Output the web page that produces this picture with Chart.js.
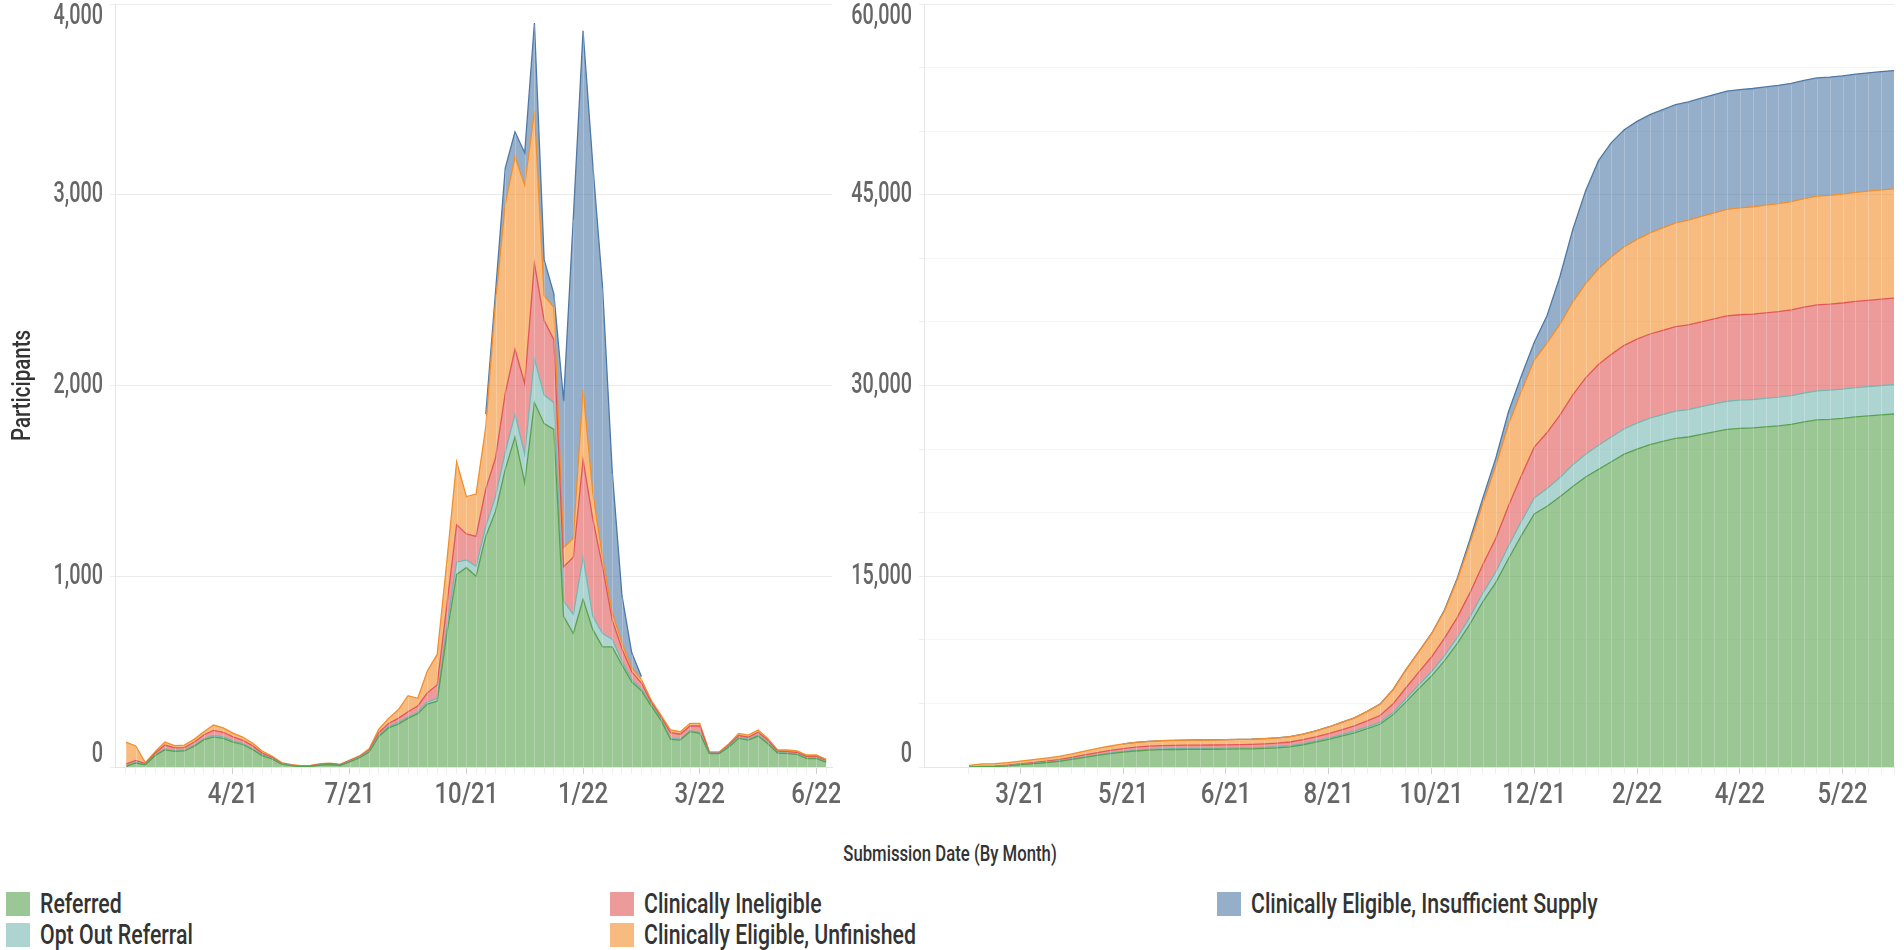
<!DOCTYPE html>
<html>
<head>
<meta charset="utf-8">
<script src="https://cdn.jsdelivr.net/npm/chart.js@4.4.1/dist/chart.umd.min.js"></script>
<style>
  html, body { margin: 0; padding: 0; background: #fff; }
  body { width: 1904px; height: 950px; position: relative; overflow: hidden;
         font-family: Roboto, "Noto Sans", sans-serif; }
  #left { position: absolute; left: 0; top: 0; }
  #right { position: absolute; left: 800px; top: 0; }
  .xtitle { position: absolute; left: 950px; top: 841px; font-size: 22px; font-weight: 500; color: #333;
            white-space: nowrap; transform: translateX(-50%) scaleX(0.76); }
  .lg { position: absolute; height: 24px; line-height: 24px; white-space: nowrap; }
  .lg i { display: inline-block; width: 24px; height: 24px; vertical-align: top; margin-right: 10px; }
  .lg span { display: inline-block; font-size: 28px; font-weight: 500; color: #333;
             transform: scaleX(0.76); transform-origin: left center; }
</style>
</head>
<body>
<canvas id="left" width="840" height="830"></canvas>
<canvas id="right" width="1104" height="830"></canvas>
<div class="xtitle">Submission Date (By Month)</div>
<div id="legend"></div>
<script>
// week starting dates (one point per week)
var weeks = [
  '2021-02-08','2021-02-15','2021-02-22','2021-03-01','2021-03-08','2021-03-15','2021-03-22','2021-03-29',
  '2021-04-05','2021-04-12','2021-04-19','2021-04-26','2021-05-03','2021-05-10','2021-05-17','2021-05-24',
  '2021-05-31','2021-06-07','2021-06-14','2021-06-21','2021-06-28','2021-07-05','2021-07-12','2021-07-19',
  '2021-07-26','2021-08-02','2021-08-09','2021-08-16','2021-08-23','2021-08-30','2021-09-06','2021-09-13',
  '2021-09-20','2021-09-27','2021-10-04','2021-10-11','2021-10-18','2021-10-25','2021-11-01','2021-11-08',
  '2021-11-15','2021-11-22','2021-11-29','2021-12-06','2021-12-13','2021-12-20','2021-12-27','2022-01-03',
  '2022-01-10','2022-01-17','2022-01-24','2022-01-31','2022-02-07','2022-02-14','2022-02-21','2022-02-28',
  '2022-03-07','2022-03-14','2022-03-21','2022-03-28','2022-04-04','2022-04-11','2022-04-18','2022-04-25',
  '2022-05-02','2022-05-09','2022-05-16','2022-05-23','2022-05-30','2022-06-06','2022-06-13','2022-06-20',
  '2022-06-27'
];

var seriesNames = ['Referred', 'Opt Out Referral', 'Clinically Ineligible',
                   'Clinically Eligible, Unfinished', 'Clinically Eligible, Insufficient Supply'];

// left chart: participants per week
var weeklyReferred = [
  3, 21, 12, 60, 90, 82, 84, 108, 142, 158,
  150, 130, 118, 92, 60, 42, 15, 7, 3, 4,
  10, 13, 8, 27, 47, 78, 160, 205, 225, 255,
  280, 330, 345, 700, 1010, 1045, 1000, 1210, 1340, 1560,
  1730, 1490, 1910, 1800, 1770, 790, 700, 880, 720, 630,
  630, 535, 447, 400, 320, 246, 145, 141, 185, 176,
  70, 70, 105, 150, 141, 162, 122, 73, 70, 66,
  44, 44, 26
];
var weeklyOptOut = [
  2, 3, 2, 3, 5, 4, 4, 5, 6, 8,
  8, 7, 5, 4, 3, 2, 1, 1, 1, 1,
  1, 1, 1, 2, 3, 4, 7, 7, 8, 7,
  8, 10, 15, 40, 65, 40, 52, 52, 80, 90,
  120, 150, 230, 150, 140, 80, 100, 220, 70, 70,
  40, 20, 13, 10, 7, 6, 5, 5, 5, 6,
  2, 2, 3, 5, 5, 6, 5, 3, 3, 3,
  3, 3, 2
];
var weeklyIneligible = [
  10, 11, 4, 9, 20, 14, 14, 17, 20, 26,
  24, 21, 17, 16, 10, 7, 3, 2, 1, 2,
  3, 4, 3, 3, 4, 6, 13, 16, 22, 28,
  32, 50, 70, 110, 195, 137, 157, 196, 200, 310,
  340, 370, 500, 390, 330, 180, 300, 510, 510, 350,
  100, 65, 40, 30, 13, 10, 30, 26, 25, 33,
  3, 3, 7, 10, 10, 14, 13, 7, 7, 8,
  8, 8, 6
];
var weeklyUnfinished = [
  115, 75, 4, 8, 16, 12, 13, 15, 17, 28,
  23, 20, 17, 14, 11, 7, 4, 2, 2, 2,
  3, 2, 2, 4, 4, 7, 18, 27, 45, 84,
  40, 115, 160, 230, 330, 196, 222, 326, 820, 990,
  1010, 1040, 800, 130, 170, 100, 100, 370, 140, 50,
  40, 30, 20, 20, 11, 11, 14, 13, 14, 14,
  4, 4, 7, 11, 11, 12, 10, 6, 9, 8,
  8, 8, 6
];
var weeklySupply = [
  null, null, null, null, null, null, null, null, null, null,
  null, null, null, null, null, null, null, null, null, null,
  null, null, null, null, null, null, null, null, null, null,
  null, null, null, null, null, null, null, 66, 50, 190,
  130, 170, 460, 190, 70, 770, 1680, 1880, 1720, 1420,
  740, 250, 80, 15, null, null, null, null, null, null,
  null, null, null, null, null, null, null, null, null, null,
  null, null, null
];

// right chart: running totals
var totalReferred = [
  3, 25, 40, 95, 180, 262, 350, 445, 600, 760,
  910, 1050, 1170, 1260, 1320, 1360, 1375, 1385, 1390, 1395,
  1405, 1420, 1430, 1460, 1510, 1590, 1750, 1950, 2170, 2420,
  2690, 3020, 3360, 4100, 5100, 6150, 7150, 8350, 9700, 11250,
  13000, 14500, 16400, 18200, 19900, 20500, 21250, 22050, 22800, 23400,
  24000, 24600, 25000, 25350, 25600, 25850, 25950, 26150, 26350, 26550,
  26630, 26670, 26750, 26830, 26950, 27140, 27300, 27340, 27420, 27530,
  27610, 27690, 27760
];
var totalOptOut = [
  2, 5, 7, 10, 15, 19, 23, 28, 34, 42,
  50, 56, 62, 66, 69, 71, 72, 73, 74, 75,
  76, 77, 78, 80, 83, 87, 94, 101, 109, 116,
  124, 134, 149, 190, 250, 290, 340, 390, 470, 560,
  680, 830, 1000, 1120, 1250, 1400, 1520, 1720, 1800, 1900,
  1950, 2000, 2040, 2080, 2110, 2140, 2160, 2180, 2200, 2210,
  2220, 2230, 2240, 2250, 2260, 2270, 2280, 2290, 2295, 2300,
  2305, 2310, 2311
];
var totalIneligible = [
  10, 20, 25, 35, 55, 70, 85, 100, 120, 150,
  175, 200, 220, 235, 245, 250, 253, 255, 257, 259,
  262, 266, 270, 275, 280, 290, 305, 325, 350, 380,
  415, 470, 540, 660, 860, 1000, 1160, 1370, 1580, 1900,
  2250, 2640, 3150, 3600, 4000, 4400, 4900, 5500, 6000, 6350,
  6500, 6560, 6600, 6620, 6630, 6640, 6660, 6675, 6690, 6710,
  6713, 6716, 6722, 6730, 6738, 6750, 6760, 6766, 6772, 6779,
  6786, 6793, 6800
];
var totalUnfinished = [
  115, 190, 195, 205, 220, 230, 245, 260, 275, 300,
  325, 345, 360, 375, 385, 395, 400, 402, 404, 406,
  408, 410, 412, 416, 420, 427, 445, 472, 517, 600,
  640, 750, 900, 1120, 1430, 1620, 1830, 2150, 2950, 3900,
  4800, 5700, 6400, 6650, 6850, 7050, 7150, 7300, 7420, 7530,
  7650, 7750, 7850, 7950, 8050, 8150, 8230, 8290, 8340, 8380,
  8410, 8440, 8470, 8495, 8515, 8530, 8545, 8555, 8565, 8575,
  8585, 8590, 8595
];
var totalSupply = [
  null, null, null, null, null, null, null, null, null, null,
  null, null, 0, 0, 0, 0, 0, 0, 0, 0,
  0, 0, 0, 0, 0, 0, 0, 0, 0, 0,
  0, 0, 0, 0, 0, 0, 0, 60, 120, 300,
  430, 600, 1000, 1200, 1400, 2150, 3750, 5700, 7300, 8500,
  9000, 9200, 9280, 9300, 9300, 9300, 9300, 9300, 9300, 9300,
  9300, 9300, 9300, 9300, 9300, 9300, 9300, 9300, 9300, 9300,
  9300, 9300, 9300
];

// axis ticks
var leftTickWeeks = ['2021-04-26', '2021-07-19', '2021-10-11', '2022-01-03', '2022-03-28', '2022-06-20'];
var leftTickLabels = ['4/21', '7/21', '10/21', '1/22', '3/22', '6/22'];
var rightTickWeeks = ['2021-03-08', '2021-05-03', '2021-06-28', '2021-08-23', '2021-10-18',
                      '2021-12-13', '2022-02-07', '2022-04-04', '2022-05-30'];
var rightTickLabels = ['3/21', '5/21', '6/21', '8/21', '10/21', '12/21', '2/22', '4/22', '5/22'];
var leftYTicks = [0, 1000, 2000, 3000, 4000];
var rightYTicks = [0, 15000, 30000, 45000, 60000];

var FONT = 'Roboto, "Noto Sans", sans-serif';
Chart.defaults.font.family = FONT;

var lineColors = ['#59a14f', '#76b7b2', '#e15759', '#f28e2b', '#4e79a7'];
var fillColors = ['rgba(89,161,79,0.6)', 'rgba(118,183,178,0.6)', 'rgba(225,87,89,0.6)',
                  'rgba(242,142,43,0.6)', 'rgba(78,121,167,0.6)'];

function pts(arr) {
  return arr.map(function (v, i) { return { x: i, y: v }; });
}

function makeDatasets(list) {
  return list.map(function (arr, k) {
    return {
      label: seriesNames[k],
      data: pts(arr),
      borderColor: lineColors[k],
      backgroundColor: fillColors[k],
      borderWidth: 1.3,
      pointRadius: 0,
      tension: 0,
      spanGaps: false,
      fill: k === 0 ? 'origin' : '-1'
    };
  });
}

// narrow text, the original uses a condensed face
function squeezeText(ctx, text, x, y, align, sx) {
  ctx.save();
  ctx.translate(x, y);
  ctx.scale(sx, 1);
  ctx.textAlign = align;
  ctx.fillText(text, 0, 0);
  ctx.restore();
}

// faint seams between weekly slices, as in the original render
var seams = {
  id: 'seams',
  afterDatasetsDraw: function (chart) {
    var ctx = chart.ctx, bottom = chart.chartArea.bottom;
    var metas = chart.getSortedVisibleDatasetMetas();
    ctx.save();
    ctx.strokeStyle = 'rgba(255,255,255,0.22)';
    ctx.lineWidth = 1;
    weeks.forEach(function (w, i) {
      var top = bottom, x = null;
      metas.forEach(function (m) {
        var p = m.data[i];
        if (p && !p.skip && isFinite(p.y)) { top = Math.min(top, p.y); x = p.x; }
      });
      if (x === null || bottom - top < 4) return;
      ctx.beginPath();
      ctx.moveTo(Math.round(x) + 0.5, bottom);
      ctx.lineTo(Math.round(x) + 0.5, top + 2);
      ctx.stroke();
    });
    ctx.restore();
  }
};

// axis labels kept inside the axis range, like the original
var axisLabels = {
  id: 'axisLabels',
  afterDraw: function (chart, args, opts) {
    var ctx = chart.ctx, area = chart.chartArea, y = chart.scales.y, x = chart.scales.x;
    ctx.save();
    ctx.fillStyle = '#666';
    ctx.textBaseline = 'middle';
    ctx.font = '500 30px ' + FONT;
    opts.yValues.forEach(function (v) {
      var py = y.getPixelForValue(v);
      py = Math.min(Math.max(py, area.top + 12), area.bottom - 13);
      squeezeText(ctx, v.toLocaleString('en-US'), area.left - 12, py, 'right', 0.66);
    });
    opts.tickWeeks.forEach(function (w, k) {
      var px = x.getPixelForValue(weeks.indexOf(w));
      squeezeText(ctx, opts.tickLabels[k], px, area.bottom + 28, 'center', 0.8);
    });
    if (opts.title) {
      ctx.save();
      ctx.fillStyle = '#333';
      ctx.font = '500 25px ' + FONT;
      ctx.translate(24, (area.top + area.bottom) / 2);
      ctx.rotate(-Math.PI / 2);
      ctx.scale(0.82, 1);
      ctx.textAlign = 'center';
      ctx.fillText(opts.title, 0, 0);
      ctx.restore();
    }
    ctx.restore();
  }
};

function makeChart(id, sets, cfg) {
  return new Chart(document.getElementById(id), {
    type: 'line',
    data: { datasets: makeDatasets(sets) },
    plugins: [seams, axisLabels],
    options: {
      responsive: false,
      animation: false,
      layout: { padding: { top: 4, right: cfg.padRight, left: 0, bottom: 0 } },
      plugins: {
        legend: { display: false },
        tooltip: { enabled: false },
        axisLabels: { yValues: cfg.yTicks, tickWeeks: cfg.tickWeeks, tickLabels: cfg.tickLabels,
                      title: cfg.title }
      },
      scales: {
        x: {
          type: 'linear',
          min: cfg.xMin, max: cfg.xMax,
          afterBuildTicks: function (s) {
            s.ticks = weeks.map(function (w, i) { return { value: i }; });
          },
          ticks: { display: false },
          grid: {
            drawOnChartArea: false, drawTicks: true, tickLength: 7,
            tickColor: function (c) {
              return cfg.tickWeeks.indexOf(weeks[c.tick.value]) >= 0 ? '#d0d0d0' : '#efefef';
            }
          },
          border: { color: '#e6e6e6' },
          afterFit: function (s) { s.height = 63; }
        },
        y: {
          stacked: true,
          min: 0, max: cfg.yMax,
          ticks: { display: false, stepSize: cfg.yStep },
          grid: {
            tickLength: 5,
            color: function (c) {
              return c.tick.value % cfg.yMajor === 0 ? '#ebebeb' : '#f6f6f6';
            },
            tickColor: '#eeeeee'
          },
          border: { color: '#e6e6e6' },
          afterFit: function (s) { s.width = cfg.yWidth; }
        }
      }
    }
  });
}

makeChart('left',
  [weeklyReferred, weeklyOptOut, weeklyIneligible, weeklyUnfinished, weeklySupply],
  { xMin: -1.13, xMax: 72.6, yMax: 4000, yStep: 1000, yMajor: 1000, yTicks: leftYTicks,
    tickWeeks: leftTickWeeks, tickLabels: leftTickLabels, yWidth: 115, padRight: 8,
    title: 'Participants' });

makeChart('right',
  [totalReferred, totalOptOut, totalIneligible, totalUnfinished, totalSupply],
  { xMin: -3.5, xMax: 72, yMax: 60000, yStep: 5000, yMajor: 15000, yTicks: rightYTicks,
    tickWeeks: rightTickWeeks, tickLabels: rightTickLabels, yWidth: 124, padRight: 10,
    title: null });

// legend laid out in columns like the original
var legendSpots = [
  { left: 6, top: 892 }, { left: 6, top: 923 },
  { left: 610, top: 892 }, { left: 610, top: 923 },
  { left: 1217, top: 892 }
];
var legendSwatch = ['#9bc695', '#add4d1', '#ed9a9b', '#f7bb80', '#95afca'];
var legend = document.getElementById('legend');
seriesNames.forEach(function (name, k) {
  var d = document.createElement('div');
  d.className = 'lg';
  d.style.left = legendSpots[k].left + 'px';
  d.style.top = legendSpots[k].top + 'px';
  d.innerHTML = '<i style="background:' + legendSwatch[k] + '"></i><span>' + name + '</span>';
  legend.appendChild(d);
});
</script>
</body>
</html>
